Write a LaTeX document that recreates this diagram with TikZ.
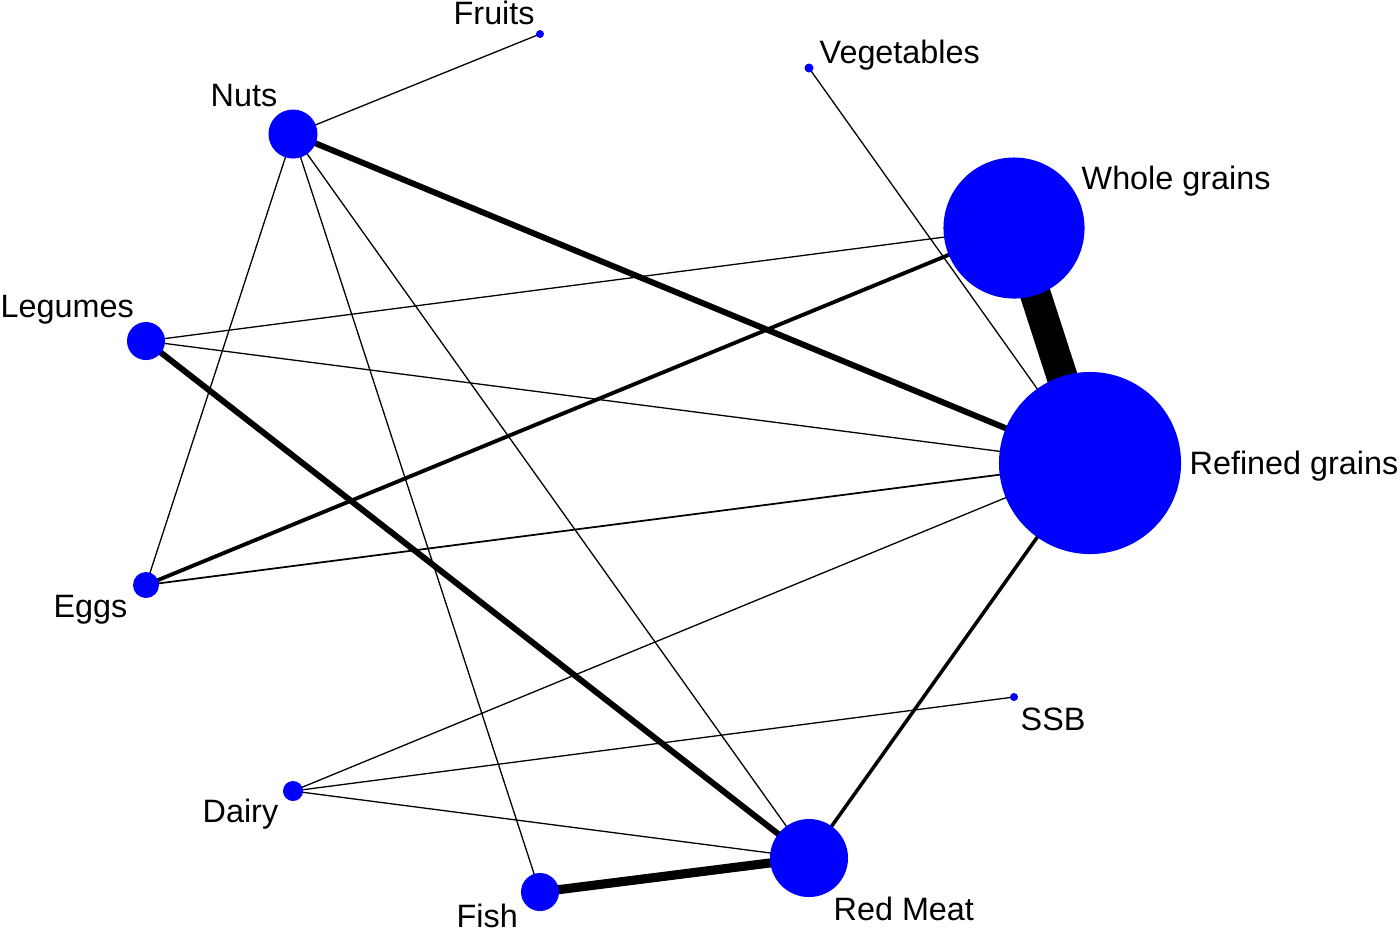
\documentclass[tikz,border=0pt]{standalone}
\usepackage{fontspec}
\setmainfont{Liberation Sans}
\usetikzlibrary{backgrounds}

\begin{document}
\begin{tikzpicture}[x=0.01cm, y=-0.01cm, food/.style={circle, fill=blue, inner sep=0pt, minimum size=#1}, lbl/.style={font=\fontsize{9.2}{11}\selectfont, inner sep=0pt}, link/.style={line width=#1, black}, link/.default=0.37pt]
\useasboundingbox (0,0) rectangle (1400,929);
% food groups
\node[food=0.08cm] (fruits) at (540,34) {}; \node[food=0.09cm] (veg) at (809,68) {}; \node[food=0.49cm] (nuts) at (293,134) {}; \node[food=1.41cm] (whole) at (1014,228) {};
\node[food=0.38cm] (legumes) at (146,341) {}; \node[food=1.82cm] (refined) at (1090,463) {}; \node[food=0.26cm] (eggs) at (146,585) {}; \node[food=0.08cm] (ssb) at (1014,697) {};
\node[food=0.2cm] (dairy) at (293,791) {}; \node[food=0.38cm] (fish) at (540,892) {}; \node[food=0.78cm] (meat) at (809,858) {};
% labels
\node[lbl, anchor=base west] (lfruits) at (453,24) {Fruits}; \node[lbl, anchor=base west] (lveg) at (819,63) {Vegetables}; \node[lbl, anchor=base west] (lnuts) at (210,106) {Nuts}; \node[lbl, anchor=base west] (lwhole) at (1081,189) {Whole grains};
\node[lbl, anchor=base west] (llegumes) at (0,317) {Legumes}; \node[lbl, anchor=base west] (lrefined) at (1189,474) {Refined grains}; \node[lbl, anchor=base east] (leggs) at (128,617) {Eggs}; \node[lbl, anchor=base west] (lssb) at (1020,730) {SSB};
\node[lbl, anchor=base west] (ldairy) at (202,822) {Dairy}; \node[lbl, anchor=base west] (lfish) at (456,927) {Fish}; \node[lbl, anchor=base west] (lmeat) at (833,920) {Red Meat};
% links
\begin{scope}[on background layer]
\draw[link] (nuts.center) -- (fruits.center); \draw[link=1.7pt] (nuts.center) -- (refined.center); \draw[link] (nuts.center) -- (eggs.center); \draw[link] (nuts.center) -- (fish.center); \draw[link] (nuts.center) -- (meat.center);
\draw[link] (veg.center) -- (refined.center); \draw[link=8.8pt] (whole.center) -- (refined.center); \draw[link] (whole.center) -- (legumes.center); \draw[link=1.1pt] (whole.center) -- (eggs.center);
\draw[link] (legumes.center) -- (refined.center); \draw[link=1.7pt] (legumes.center) -- (meat.center); \draw[link=0.5pt] (eggs.center) -- (refined.center); \draw[link] (refined.center) -- (dairy.center);
\draw[link=1pt] (refined.center) -- (meat.center); \draw[link] (ssb.center) -- (dairy.center); \draw[link] (dairy.center) -- (meat.center); \draw[link=2.6pt] (fish.center) -- (meat.center);
\end{scope}
\end{tikzpicture}
\end{document}
